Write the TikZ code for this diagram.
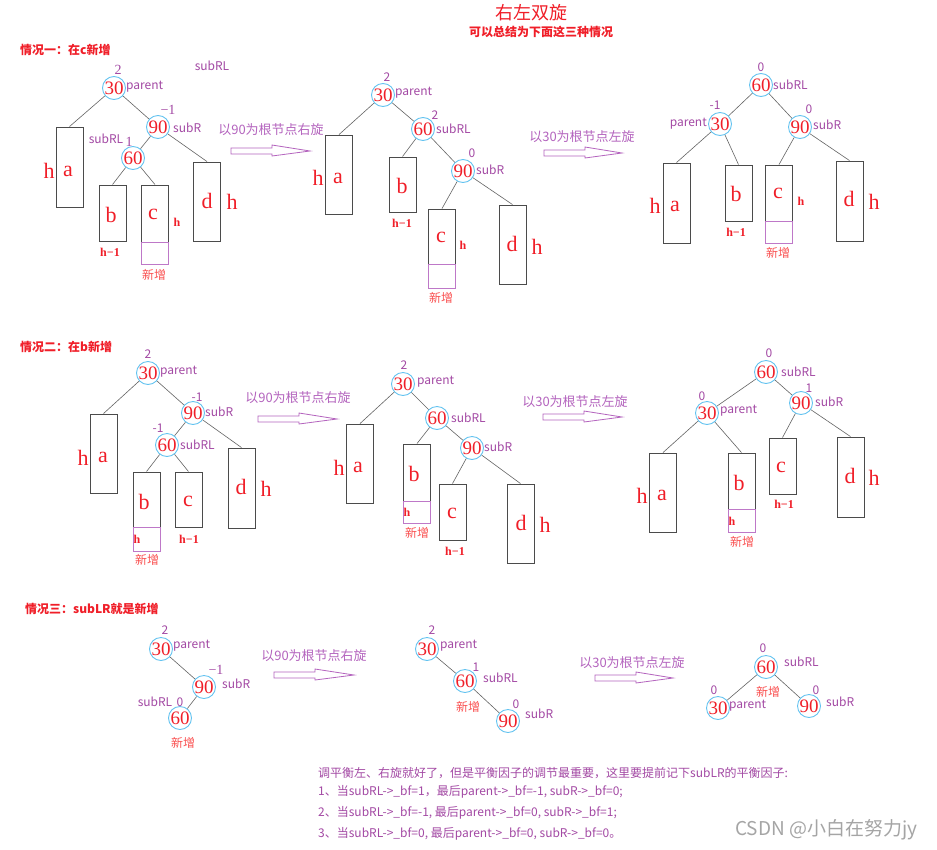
\documentclass[tikz,border=0pt]{standalone}
\usepackage{fontspec}
\setmainfont{Liberation Serif}
\newfontfamily\cjk{Noto Sans CJK SC}
\definecolor{nred}{RGB}{240,30,40}
\definecolor{xred}{RGB}{250,80,80}
\definecolor{lpur}{RGB}{163,73,164}
\definecolor{cblue}{RGB}{100,195,240}
\definecolor{bgray}{RGB}{75,75,75}
\definecolor{egray}{RGB}{100,100,100}
\definecolor{npur}{RGB}{190,120,200}
\definecolor{apur}{RGB}{180,100,190}
\definecolor{wgray}{RGB}{165,165,165}
\newcommand\fatarr[3]{%
 \draw[fat] (#1,#3-3) -- (#1+41,#3-3) -- (#1+41,#3-6) -- (#2,#3) -- (#1+41,#3+5) -- (#1+41,#3+3) -- (#1,#3+3) -- cycle;}
\tikzset{
 nd/.style={circle,draw=cblue,line width=0.9pt,minimum size=23pt,inner sep=0pt,text=nred,font=\fontsize{19}{19}\selectfont},
 lb/.style={text=lpur,font=\cjk\fontsize{12}{12}\selectfont,inner sep=0pt},
 bfr/.style={text=lpur,font=\fontsize{14}{14}\selectfont,inner sep=0pt},
 tbox/.style={draw=bgray,line width=0.9pt,minimum width=27pt,inner sep=0pt},
 nbox/.style={draw=npur,line width=0.9pt,minimum width=27pt,inner sep=0pt},
 edge/.style={draw=egray,line width=0.6pt},
 lt/.style={text=nred,font=\fontsize{22}{22}\selectfont,inner sep=0pt},
 sh/.style={text=nred,font=\bfseries\fontsize{12}{12}\selectfont,inner sep=0pt},
 xz/.style={text=xred,font=\cjk\fontsize{12}{12}\selectfont,inner sep=0pt},
 artext/.style={text=apur,font=\cjk\fontsize{13}{13}\selectfont,inner sep=0pt},
 fat/.style={draw=apur,line width=0.8pt},
 ttl/.style={text=nred,font=\cjk\bfseries\fontsize{12}{12}\selectfont,inner sep=0pt},
 note/.style={text=lpur,font=\cjk\fontsize{12}{12}\selectfont,inner sep=0pt,anchor=west},
}
\begin{document}
\begin{tikzpicture}[x=1pt,y=-1pt]
\useasboundingbox[fill=white] (0,0) rectangle (937,849);
% titles
\node[text=nred,font=\cjk\fontsize{18}{18}\selectfont,inner sep=0pt] (title) at (531,13) {右左双旋};
\node[ttl] (sub) at (541,32) {可以总结为下面这三种情况};
\node[ttl,anchor=west] (c1) at (20,50) {情况一：在c新增};
\node[ttl,anchor=west] (c2) at (20,347) {情况二：在b新增};
\node[ttl,anchor=west] (c3) at (25,609) {情况三：subLR就是新增};

% ===== Tree 1 =====
\node[nd] (A30) at (114,88) {30};
\node[nd] (A90) at (158,127) {90};
\node[nd] (A60) at (133,158) {60};
\node[tbox,minimum height=80pt] (Aa) at (69.5,167) {};
\node[tbox,minimum height=56pt] (Ab) at (112.5,213) {};
\node[tbox,minimum height=57pt] (Ac) at (155,213.5) {};
\node[nbox,minimum height=22pt] (An) at (155,253) {};
\node[tbox,minimum height=79pt] (Ad) at (207,201.5) {};
\draw[edge] (A30) -- (Aa.north);
\draw[edge] (A30) -- (A90);
\draw[edge] (A90) -- (A60);
\draw[edge] (A90) -- (Ad.north);
\draw[edge] (A60) -- (Ab.north);
\draw[edge] (A60) -- (Ac.north);
\node[bfr] (A1) at (118,70) {2};
\node[lb,anchor=west] (A2) at (126,87) {parent};
\node[lb] (A3) at (212,66) {subRL};
\node[bfr] (A4) at (168,110) {−1};
\node[lb,anchor=west] (A5) at (173,128) {subR};
\node[lb] (A6) at (106,139) {subRL};
\node[bfr] (A7) at (129,142) {1};
\node[lt] (A8) at (49,171) {h};
\node[lt] (A9) at (68,171) {a};
\node[lt] (A10) at (111,215) {b};
\node[lt] (A11) at (153,214) {c};
\node[sh] (A12) at (177,222) {h};
\node[lt] (A13) at (207,201) {d};
\node[lt] (A14) at (232,202) {h};
\node[sh] (A15) at (110,252) {h−1};
\node[xz] (A16) at (154,275) {新增};

\node[artext] (R1) at (271,130) {以90为根节点右旋};
\fatarr{231}{310}{151}

% ===== Tree 2 =====
\node[nd] (B30) at (383,95) {30};
\node[nd] (B60) at (423,129) {60};
\node[nd] (B90) at (463,171) {90};
\node[tbox,minimum height=79pt] (Ba) at (339,174.5) {};
\node[tbox,minimum height=55pt] (Bb) at (402.5,184.5) {};
\node[tbox,minimum height=55pt] (Bc) at (442,236.5) {};
\node[nbox,minimum height=24pt] (Bn) at (442,276) {};
\node[tbox,minimum height=79pt] (Bd) at (512.5,244.5) {};
\draw[edge] (B30) -- (Ba.north);
\draw[edge] (B30) -- (B60);
\draw[edge] (B60) -- (Bb.north);
\draw[edge] (B60) -- (B90);
\draw[edge] (B90) -- (Bc.north);
\draw[edge] (B90) -- (Bd.north);
\node[lb] (B1) at (387,77) {2};
\node[lb,anchor=west] (B2) at (395,93) {parent};
\node[lb] (B3) at (435,115) {2};
\node[lb,anchor=west] (B4) at (436,129) {subRL};
\node[lb] (B5) at (472,153) {0};
\node[lb,anchor=west] (B6) at (476,170) {subR};
\node[lt] (B7) at (318,178) {h};
\node[lt] (B8) at (338,178) {a};
\node[lt] (B9) at (402,186) {b};
\node[sh] (B10) at (402,223) {h−1};
\node[lt] (B11) at (441,237) {c};
\node[sh] (B12) at (463,245) {h};
\node[xz] (B13) at (441,298) {新增};
\node[lt] (B14) at (512,244) {d};
\node[lt] (B15) at (537,247) {h};

\node[artext] (R2) at (582,137) {以30为根节点左旋};
\fatarr{544}{622}{153}

% ===== Tree 3 =====
\node[nd] (C60) at (761,85) {60};
\node[nd] (C30) at (720,124) {30};
\node[nd] (C90) at (800,127) {90};
\node[tbox,minimum height=80pt] (Ca) at (676.5,203) {};
\node[tbox,minimum height=56pt] (Cb) at (738.5,193) {};
\node[tbox,minimum height=56pt] (Cc) at (779,193) {};
\node[nbox,minimum height=22pt] (Cn) at (779,232) {};
\node[tbox,minimum height=80pt] (Cd) at (849.5,201) {};
\draw[edge] (C60) -- (C30);
\draw[edge] (C60) -- (C90);
\draw[edge] (C30) -- (Ca.north);
\draw[edge] (C30) -- (Cb.north);
\draw[edge] (C90) -- (Cc.north);
\draw[edge] (C90) -- (Cd.north);
\node[lb] (C1) at (761,67) {0};
\node[lb,anchor=west] (C2) at (773,85) {subRL};
\node[lb] (C3) at (715,105) {-1};
\node[lb,anchor=east] (C4) at (707,124) {parent};
\node[lb] (C5) at (809,109) {0};
\node[lb,anchor=west] (C6) at (813,125) {subR};
\node[lt] (C7) at (655,206) {h};
\node[lt] (C8) at (675,206) {a};
\node[lt] (C9) at (736,194) {b};
\node[sh] (C10) at (736,232) {h−1};
\node[lt] (C11) at (778,193) {c};
\node[sh] (C12) at (801,201) {h};
\node[xz] (C13) at (778,253) {新增};
\node[lt] (C14) at (849,199) {d};
\node[lt] (C15) at (874,202) {h};

% ===== Tree 4 =====
\node[nd] (D30) at (148,373) {30};
\node[nd] (D90) at (193,413) {90};
\node[nd] (D60) at (167,445) {60};
\node[tbox,minimum height=79pt] (Da) at (103.5,453.5) {};
\node[tbox,minimum height=55pt] (Db) at (146.5,499.5) {};
\node[nbox,minimum height=24pt] (Dn) at (146.5,539) {};
\node[tbox,minimum height=55pt] (Dc) at (188.5,499.5) {};
\node[tbox,minimum height=80pt] (Dd) at (241.5,488) {};
\draw[edge] (D30) -- (Da.north);
\draw[edge] (D30) -- (D90);
\draw[edge] (D90) -- (D60);
\draw[edge] (D90) -- (Dd.north);
\draw[edge] (D60) -- (Db.north);
\draw[edge] (D60) -- (Dc.north);
\node[lb] (D1) at (148,354) {2};
\node[lb,anchor=west] (D2) at (160,372) {parent};
\node[lb] (D3) at (197,397) {-1};
\node[lb,anchor=west] (D4) at (205,412) {subR};
\node[lb] (D5) at (158,428) {-1};
\node[lb,anchor=west] (D6) at (180,445) {subRL};
\node[lt] (D7) at (83,458) {h};
\node[lt] (D8) at (103,457) {a};
\node[lt] (D9) at (144,502) {b};
\node[lt] (D10) at (188,501) {c};
\node[sh] (D11) at (137,539) {h};
\node[xz] (D12) at (147,560) {新增};
\node[sh] (D13) at (189,539) {h−1};
\node[lt] (D14) at (241,487) {d};
\node[lt] (D15) at (266,489) {h};

\node[artext] (R3) at (298,398) {以90为根节点右旋};
\fatarr{258}{337}{419}

% ===== Tree 5 =====
\node[nd] (E30) at (403,384) {30};
\node[nd] (E60) at (437,418) {60};
\node[nd] (E90) at (472,448) {90};
\node[tbox,minimum height=79pt] (Ea) at (360,463.5) {};
\node[tbox,minimum height=57pt] (Eb) at (417,472.5) {};
\node[nbox,minimum height=22pt] (En) at (417,512) {};
\node[tbox,minimum height=56pt] (Ec) at (452.5,512) {};
\node[tbox,minimum height=79pt] (Ed) at (520.5,523.5) {};
\draw[edge] (E30) -- (Ea.north);
\draw[edge] (E30) -- (E60);
\draw[edge] (E60) -- (Eb.north);
\draw[edge] (E60) -- (E90);
\draw[edge] (E90) -- (Ec.north);
\draw[edge] (E90) -- (Ed.north);
\node[lb] (E1) at (404,365) {2};
\node[lb,anchor=west] (E2) at (417,382) {parent};
\node[lb,anchor=west] (E3) at (451,418) {subRL};
\node[lb,anchor=west] (E4) at (484,447) {subR};
\node[lt] (E5) at (339,468) {h};
\node[lt] (E6) at (358,467) {a};
\node[lt] (E7) at (414,474) {b};
\node[sh] (E8) at (407,512) {h};
\node[xz] (E9) at (417,533) {新增};
\node[lt] (E10) at (452,513) {c};
\node[sh] (E11) at (455,551) {h−1};
\node[lt] (E12) at (521,523) {d};
\node[lt] (E13) at (545,525) {h};

\node[artext] (R4) at (575,402) {以30为根节点左旋};
\fatarr{543}{622}{417}

% ===== Tree 6 =====
\node[nd] (F60) at (766,372) {60};
\node[nd] (F30) at (707,413) {30};
\node[nd] (F90) at (801,403) {90};
\node[tbox,minimum height=79pt] (Fa) at (663,492.5) {};
\node[tbox,minimum height=56pt] (Fb) at (741.5,481) {};
\node[nbox,minimum height=23pt] (Fn) at (741.5,520.5) {};
\node[tbox,minimum height=56pt] (Fc) at (782.5,466) {};
\node[tbox,minimum height=80pt] (Fd) at (850.5,477) {};
\draw[edge] (F60) -- (F30);
\draw[edge] (F60) -- (F90);
\draw[edge] (F30) -- (Fa.north);
\draw[edge] (F30) -- (Fb.north);
\draw[edge] (F90) -- (Fc.north);
\draw[edge] (F90) -- (Fd.north);
\node[lb] (F1) at (769,353) {0};
\node[lb,anchor=west] (F2) at (781,372) {subRL};
\node[lb] (F3) at (702,396) {0};
\node[lb,anchor=west] (F4) at (720,411) {parent};
\node[lb] (F5) at (809,388) {1};
\node[lb,anchor=west] (F6) at (815,402) {subR};
\node[lt] (F7) at (642,496) {h};
\node[lt] (F8) at (662,495) {a};
\node[lt] (F9) at (739,483) {b};
\node[sh] (F10) at (732,521) {h};
\node[xz] (F11) at (742,542) {新增};
\node[lt] (F12) at (781,467) {c};
\node[sh] (F13) at (784,504) {h−1};
\node[lt] (F14) at (850,476) {d};
\node[lt] (F15) at (874,478) {h};

% ===== Case 3 =====
\node[nd] (G30) at (161,649) {30};
\node[nd] (G90) at (204,687) {90};
\node[nd] (G60) at (180,718) {60};
\draw[edge] (G30) -- (G90);
\draw[edge] (G90) -- (G60);
\node[lb] (G1) at (165,630) {2};
\node[lb,anchor=west] (G2) at (173,646) {parent};
\node[bfr] (G3) at (216,670) {−1};
\node[lb,anchor=west] (G4) at (222,684) {subR};
\node[lb] (G5) at (155,702) {subRL};
\node[lb] (G6) at (180,702) {0};
\node[xz] (G7) at (183,743) {新增};

\node[artext] (R5) at (314,656) {以90为根节点右旋};
\fatarr{274}{354}{675}

\node[nd] (H30) at (427,649) {30};
\node[nd] (H60) at (465,681) {60};
\node[nd] (H90) at (508,721) {90};
\draw[edge] (H30) -- (H60);
\draw[edge] (H60) -- (H90);
\node[lb] (H1) at (432,630) {2};
\node[lb,anchor=west] (H2) at (440,646) {parent};
\node[lb] (H3) at (476,667) {1};
\node[lb,anchor=west] (H4) at (483,678) {subRL};
\node[xz] (H5) at (468,707) {新增};
\node[lb] (H6) at (516,704) {0};
\node[lb,anchor=west] (H7) at (525,714) {subR};

\node[artext] (R6) at (632,663) {以30为根节点左旋};
\fatarr{595}{673}{678}

\node[nd] (I60) at (766,667) {60};
\node[nd] (I30) at (718,708) {30};
\node[nd] (I90) at (809,706) {90};
\draw[edge] (I60) -- (I30);
\draw[edge] (I60) -- (I90);
\node[lb] (I1) at (763,648) {0};
\node[lb,anchor=west] (I2) at (784,662) {subRL};
\node[xz] (I3) at (768,692) {新增};
\node[lb] (I4) at (714,690) {0};
\node[lb,anchor=west] (I5) at (729,706) {parent};
\node[lb] (I6) at (816,690) {0};
\node[lb,anchor=west] (I7) at (826,702) {subR};

% ===== notes =====
\node[note] (N1) at (318,773) {调平衡左、右旋就好了，但是平衡因子的调节最重要，这里要提前记下subLR的平衡因子:};
\node[note] (N2) at (318,792) {1、当subRL->\_bf=1，最后parent->\_bf=-1, subR->\_bf=0;};
\node[note] (N3) at (318,813) {2、当subRL->\_bf=-1, 最后parent->\_bf=0, subR->\_bf=1;};
\node[note] (N4) at (318,834) {3、当subRL->\_bf=0, 最后parent->\_bf=0, subR->\_bf=0。};
\node[text=wgray,font=\cjk\fontsize{19}{19}\selectfont,inner sep=0pt,anchor=west] (W) at (735,830) {CSDN @小白在努力jy};
\end{tikzpicture}
\end{document}
